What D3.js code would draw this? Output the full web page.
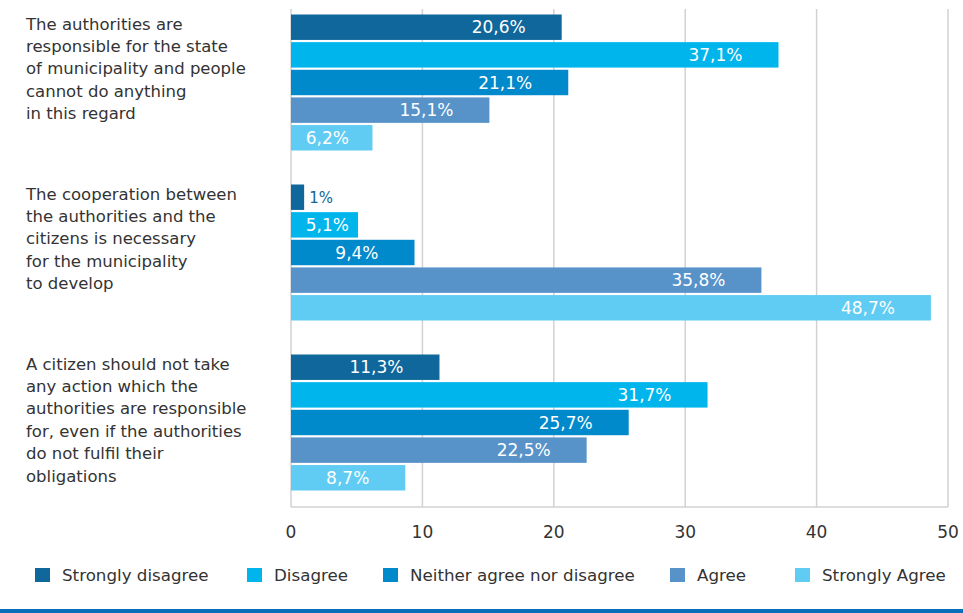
<!DOCTYPE html>
<html>
<head>
<meta charset="utf-8">
<script src="https://cdn.jsdelivr.net/npm/d3@7"></script>
<style>
  body { margin: 0; background: #fff; }
  text { font-family: "DejaVu Sans", Roboto, sans-serif; }
</style>
</head>
<body>
<div id="chart"></div>
<script>
// survey data
const statements = [
  ["The authorities are", "responsible for the state", "of municipality and people", "cannot do anything", "in this regard"],
  ["The cooperation between", "the authorities and the", "citizens is necessary", "for the municipality", "to develop"],
  ["A citizen should not take", "any action which the", "authorities are responsible", "for, even if the authorities", "do not fulfil their", "obligations"]
];
const answers = ["Strongly disagree", "Disagree", "Neither agree nor disagree", "Agree", "Strongly Agree"];
const stronglyDisagree = [20.6, 1, 11.3];
const disagree = [37.1, 5.1, 31.7];
const neither = [21.1, 9.4, 25.7];
const agree = [15.1, 35.8, 22.5];
const stronglyAgree = [6.2, 48.7, 8.7];
const xTicks = [0, 10, 20, 30, 40, 50];

const colors = ["#10679b", "#00b5ec", "#0089cb", "#5792c9", "#61ccf3"];

const width = 963, height = 613;
const series = [stronglyDisagree, disagree, neither, agree, stronglyAgree];

const svg = d3.select("#chart")
  .append("svg")
  .attr("width", width)
  .attr("height", height);

const xScale = d3.scaleLinear()
  .domain([0, 50])
  .range([291, 948]);

const yGroup = d3.scaleBand()
  .domain(d3.range(statements.length))
  .range([-2.5, 507.5])
  .paddingInner(0.2)
  .paddingOuter(0.1);

const yBar = d3.scaleBand()
  .domain(d3.range(answers.length))
  .range([0, yGroup.bandwidth()])
  .paddingInner(0.08);

// grid lines
svg.append("g")
  .selectAll("line")
  .data(xTicks)
  .enter()
  .append("line")
    .attr("x1", d => xScale(d))
    .attr("x2", d => xScale(d))
    .attr("y1", 9)
    .attr("y2", 507)
    .attr("stroke", "#d2d2d4")
    .attr("stroke-width", 1.5);

svg.append("line")
  .attr("x1", xScale(0))
  .attr("x2", xScale(50))
  .attr("y1", 507)
  .attr("y2", 507)
  .attr("stroke", "#d2d2d4")
  .attr("stroke-width", 1.5);

// x axis labels
svg.append("g")
  .selectAll("text")
  .data(xTicks)
  .enter()
  .append("text")
    .attr("x", d => xScale(d))
    .attr("y", 538)
    .attr("text-anchor", "middle")
    .attr("font-size", "17px")
    .attr("fill", "#333")
    .text(d => d);

// bars
const groups = svg.selectAll(".group")
  .data(statements)
  .enter()
  .append("g")
    .attr("class", "group")
    .attr("transform", (d, i) => `translate(0,${yGroup(i)})`);

groups.each(function(lines, gi) {
  const g = d3.select(this);
  const vals = series.map(s => s[gi]);

  g.selectAll("rect")
    .data(vals)
    .enter()
    .append("rect")
      .attr("x", xScale(0))
      .attr("y", (d, i) => yBar(i))
      .attr("height", yBar.bandwidth())
      .attr("width", d => xScale(d) - xScale(0))
      .attr("fill", (d, i) => colors[i]);

  g.selectAll(".val")
    .data(vals)
    .enter()
    .append("text")
      .attr("class", "val")
      .attr("x", d => d < 3 ? xScale(d) + 5 : Math.max(xScale(d) - 36, xScale(0) + 58))
      .attr("y", (d, i) => yBar(i) + yBar.bandwidth() / 2)
      .attr("dy", "0.36em")
      .attr("text-anchor", d => d < 3 ? "start" : "end")
      .attr("font-size", d => d < 3 ? "15px" : "17px")
      .attr("fill", (d, i) => d < 3 ? colors[i] : "#fff")
      .text(d => String(d).replace(".", ",") + "%");

  // statement text
  g.append("text")
    .attr("x", 26)
    .attr("y", 15)
    .attr("font-size", "16.5px")
    .attr("fill", "#333")
    .selectAll("tspan")
    .data(lines)
    .enter()
    .append("tspan")
      .attr("x", 26)
      .attr("dy", (d, i) => i === 0 ? 0 : 22.4)
      .text(d => d);
});

// legend
const legendX = [35, 247, 383, 670, 795];
const legend = svg.append("g")
  .selectAll("g")
  .data(answers)
  .enter()
  .append("g")
    .attr("transform", (d, i) => `translate(${legendX[i]},568)`);

legend.append("rect")
  .attr("width", 15)
  .attr("height", 14)
  .attr("fill", (d, i) => colors[i]);

legend.append("text")
  .attr("x", 27)
  .attr("y", 7)
  .attr("dy", "0.36em")
  .attr("font-size", "16.7px")
  .attr("fill", "#333")
  .text(d => d);

// bottom rule
svg.append("rect")
  .attr("x", 0)
  .attr("y", 609)
  .attr("width", width)
  .attr("height", 4)
  .attr("fill", "#0a6fb8");
</script>
</body>
</html>
